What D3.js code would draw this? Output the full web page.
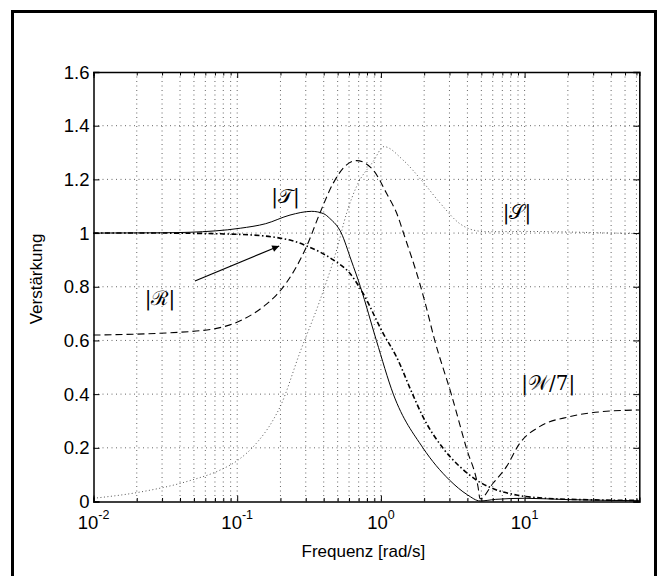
<!DOCTYPE html>
<html>
<head>
<meta charset="utf-8">
<script src="https://cdn.jsdelivr.net/npm/d3@7"></script>
<style>
  html, body { margin: 0; padding: 0; background: #fff; }
  svg { display: block; }
</style>
</head>
<body>
<script>
// curve data: [frequency in rad/s, magnitude]
const tCurve = [
  [0.01, 1.000], [0.03, 1.001], [0.047, 1.003], [0.105, 1.018], [0.158, 1.035],
  [0.233, 1.067], [0.33, 1.081], [0.40, 1.072], [0.44, 1.055], [0.53, 1.0],
  [0.62, 0.90], [0.72, 0.80], [0.93, 0.60], [1.22, 0.40], [1.96, 0.20],
  [3.0, 0.08], [4.0, 0.025], [4.9, 0.002], [6.3, 0.008], [10, 0.012],
  [20, 0.007], [40, 0.004], [62.8, 0.003]
];
const rCurve = [
  [0.01, 1.0], [0.03, 1.0], [0.105, 0.995], [0.233, 0.974], [0.304, 0.952],
  [0.466, 0.90], [0.608, 0.85], [0.75, 0.776], [1.035, 0.627], [1.28, 0.54],
  [1.67, 0.397], [1.96, 0.316], [2.71, 0.198], [3.54, 0.13], [4.62, 0.08],
  [5.9, 0.05], [8.77, 0.024], [14.1, 0.012], [30, 0.006], [62.8, 0.004]
];
const wCurve = [
  [0.01, 0.62], [0.047, 0.633], [0.089, 0.658], [0.136, 0.707], [0.16, 0.735],
  [0.188, 0.77], [0.22, 0.815], [0.304, 0.95], [0.376, 1.074], [0.466, 1.186],
  [0.577, 1.254], [0.676, 1.27], [0.883, 1.235], [1.094, 1.148], [1.318, 1.06],
  [1.426, 1.005], [1.862, 0.813], [2.02, 0.745], [2.37, 0.60], [3.1, 0.397],
  [3.94, 0.198], [4.74, 0.055], [4.9, 0.01], [6.03, 0.068], [7.48, 0.13],
  [9.25, 0.217], [12.7, 0.279], [20.6, 0.316], [35.1, 0.335], [62.8, 0.341]
];
const sCurve = [
  [0.01, 0.012], [0.021, 0.035], [0.047, 0.078], [0.076, 0.117], [0.1, 0.152],
  [0.136, 0.217], [0.178, 0.304], [0.199, 0.353], [0.274, 0.557], [0.377, 0.75],
  [0.492, 0.937], [0.578, 1.075], [0.679, 1.175], [0.885, 1.267], [1.05, 1.322],
  [1.426, 1.272], [1.963, 1.19], [2.6, 1.11], [3.54, 1.035], [4.4, 1.011],
  [5.5, 1.005], [10, 1.006], [20, 1.004], [40, 1.0], [62.8, 0.998]
];

// axes
const xDomain = [0.01, 62.83];
const yDomain = [0, 1.6];
const xDecades = [0.01, 0.1, 1, 10];
const xTickExponents = ["-2", "-1", "0", "1"];
const yTicks = [0, 0.2, 0.4, 0.6, 0.8, 1, 1.2, 1.4, 1.6];
const yTickLabels = ["0", "0.2", "0.4", "0.6", "0.8", "1", "1.2", "1.4", "1.6"];

// curve labels (f, v = text baseline position in data units)
const labels = [
  { text: "|\u{1D4AF}|", f: 0.217, v: 1.112 },
  { text: "|\u211B|", f: 0.029, v: 0.732 },
  { text: "|\u{1D4AE}|", f: 8.85, v: 1.052 },
  { text: "|\u{1D4B2}/7|", f: 14.6, v: 0.415 }
];
const arrow = { from: [0.0508, 0.8215], to: [0.196, 0.952] };

const size = {
  width: 659,
  height: 576,
  left: 93.5,
  right: 639.3,
  top: 72,
  bottom: 501.5
};

const font = "'Liberation Sans', Arial, Helvetica, sans-serif";

function createScales() {
  return {
    x: d3.scaleLog().domain(xDomain).range([size.left, size.right]),
    y: d3.scaleLinear().domain(yDomain).range([size.bottom, size.top])
  };
}

function allXTicks() {
  const ticks = [];
  xDecades.forEach(d => {
    for (let k = 1; k <= 9; k++) {
      const v = d * k;
      if (v >= xDomain[0] && v <= xDomain[1]) ticks.push(v);
    }
  });
  return ticks;
}

function draw(scale) {
  const svg = d3.select("body").append("svg")
    .attr("width", size.width)
    .attr("height", size.height);

  // outer frame
  svg.append("rect")
    .attr("x", 12.5).attr("y", 11.5)
    .attr("width", 643).attr("height", 620)
    .attr("fill", "#fff")
    .attr("stroke", "#000")
    .attr("stroke-width", 3);

  const xTicks = allXTicks();

  // grid
  const grid = svg.append("g")
    .attr("stroke", "#555")
    .attr("stroke-width", 0.9)
    .attr("stroke-dasharray", "1,3.5");
  grid.selectAll(".gx")
    .data(xTicks.filter(v => v > xDomain[0]))
    .join("line")
    .attr("x1", d => scale.x(d)).attr("x2", d => scale.x(d))
    .attr("y1", size.top).attr("y2", size.bottom);
  grid.selectAll(".gy")
    .data(yTicks.filter(v => v > yDomain[0] && v < yDomain[1]))
    .join("line")
    .attr("y1", d => scale.y(d)).attr("y2", d => scale.y(d))
    .attr("x1", size.left).attr("x2", size.right);

  // curves
  const line = d3.line()
    .x(d => scale.x(d[0]))
    .y(d => scale.y(d[1]))
    .curve(d3.curveMonotoneX);

  svg.append("path").datum(sCurve)
    .attr("d", line).attr("fill", "none")
    .attr("stroke", "#555").attr("stroke-width", 1)
    .attr("stroke-dasharray", "1,2.5");
  svg.append("path").datum(wCurve)
    .attr("d", line).attr("fill", "none")
    .attr("stroke", "#000").attr("stroke-width", 1.1)
    .attr("stroke-dasharray", "7,4");
  svg.append("path").datum(rCurve)
    .attr("d", line).attr("fill", "none")
    .attr("stroke", "#000").attr("stroke-width", 1.6)
    .attr("stroke-dasharray", "5,2.5,1.5,2.5");
  svg.append("path").datum(tCurve)
    .attr("d", line).attr("fill", "none")
    .attr("stroke", "#000").attr("stroke-width", 1);

  // axes, ticks pointing inwards
  const isMajor = v => xDecades.includes(v);
  const bottom = svg.append("g")
    .attr("transform", `translate(0, ${size.bottom})`)
    .call(d3.axisBottom(scale.x).tickValues(xTicks).tickSize(-4).tickFormat(""));
  const top = svg.append("g")
    .attr("transform", `translate(0, ${size.top})`)
    .call(d3.axisTop(scale.x).tickValues(xTicks).tickSize(-4).tickFormat(""));
  [bottom, top].forEach(g => {
    g.selectAll(".tick line")
      .attr("y2", d => (isMajor(d) ? 6 : 3.5) * (g === top ? 1 : -1));
  });
  const left = svg.append("g")
    .attr("transform", `translate(${size.left}, 0)`)
    .call(d3.axisLeft(scale.y).tickValues(yTicks).tickSize(-6).tickFormat(""));
  const right = svg.append("g")
    .attr("transform", `translate(${size.right}, 0)`)
    .call(d3.axisRight(scale.y).tickValues(yTicks).tickSize(-6).tickFormat(""));
  [bottom, top, left, right].forEach(g => {
    g.select(".domain").attr("stroke", "#000").attr("stroke-width", 1.5);
    g.selectAll(".tick line").attr("stroke", "#000").attr("stroke-width", 1);
  });

  // y tick labels
  svg.append("g").selectAll("text")
    .data(yTicks)
    .join("text")
    .attr("x", size.left - 4)
    .attr("y", d => scale.y(d))
    .attr("dy", "0.36em")
    .attr("text-anchor", "end")
    .style("font-family", font)
    .style("font-size", "18.5px")
    .text((d, i) => yTickLabels[i]);

  // x tick labels 10^n
  const xl = svg.append("g").selectAll("text")
    .data(xDecades)
    .join("text")
    .attr("x", d => scale.x(d))
    .attr("y", 529)
    .attr("text-anchor", "middle")
    .style("font-family", font)
    .style("font-size", "18.5px");
  xl.append("tspan").text("10");
  xl.append("tspan")
    .attr("dy", -10)
    .style("font-size", "12.5px")
    .text((d, i) => xTickExponents[i]);

  // axis titles
  svg.append("text")
    .attr("x", (size.left + size.right) / 2 - 3)
    .attr("y", 557)
    .attr("text-anchor", "middle")
    .style("font-family", font)
    .style("font-size", "17px")
    .text("Frequenz [rad/s]");
  svg.append("text")
    .attr("transform", "translate(42, 279) rotate(-90)")
    .attr("text-anchor", "middle")
    .style("font-family", font)
    .style("font-size", "17px")
    .text("Verstärkung");

  // curve labels
  svg.append("g").selectAll("text")
    .data(labels)
    .join("text")
    .attr("x", d => scale.x(d.f))
    .attr("y", d => scale.y(d.v))
    .attr("text-anchor", "middle")
    .style("font-family", "'DejaVu Serif', 'Liberation Serif', serif")
    .style("font-size", "20px")
    .text(d => d.text);

  // arrow to |R|
  svg.append("defs").append("marker")
    .attr("id", "head")
    .attr("viewBox", "0 0 10 10")
    .attr("refX", 10).attr("refY", 5)
    .attr("markerWidth", 11).attr("markerHeight", 7)
    .attr("markerUnits", "userSpaceOnUse")
    .attr("orient", "auto")
    .append("path")
    .attr("d", "M0,0 L10,5 L0,10 z")
    .attr("fill", "#000");
  svg.append("line")
    .attr("x1", scale.x(arrow.from[0])).attr("y1", scale.y(arrow.from[1]))
    .attr("x2", scale.x(arrow.to[0])).attr("y2", scale.y(arrow.to[1]))
    .attr("stroke", "#000").attr("stroke-width", 1.2)
    .attr("marker-end", "url(#head)");
}

draw(createScales());
</script>
</body>
</html>
